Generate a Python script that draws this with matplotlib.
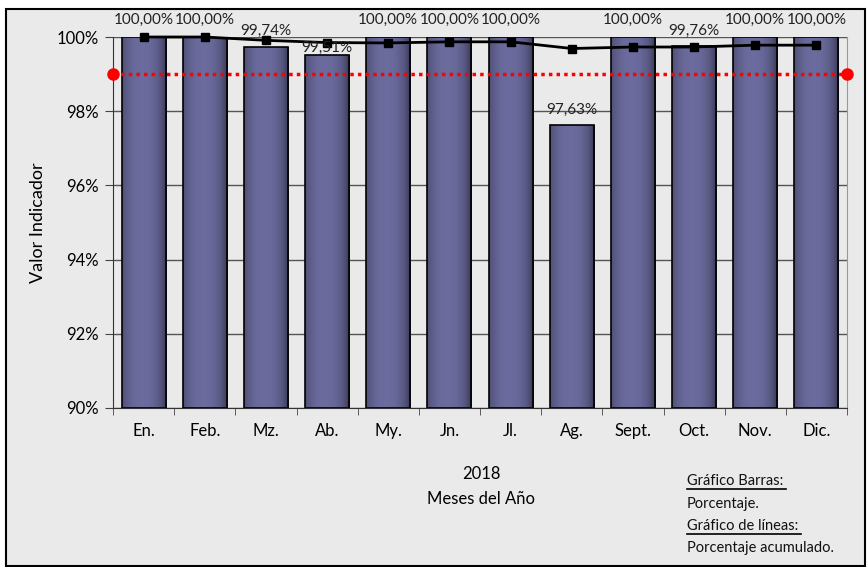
import numpy as np
import matplotlib
matplotlib.use("Agg")
import matplotlib.pyplot as plt
from matplotlib.patches import Rectangle

plt.rcParams['font.family'] = ['Lato', 'DejaVu Sans']

meses = ['En.', 'Feb.', 'Mz.', 'Ab.', 'My.', 'Jn.', 'Jl.', 'Ag.', 'Sept.', 'Oct.', 'Nov.', 'Dic.']
porcentaje = [100.00, 100.00, 99.74, 99.51, 100.00, 100.00, 100.00, 97.63, 100.00, 99.76, 100.00, 100.00]
acumulado = [100.00, 100.00, 99.91, 99.85, 99.84, 99.87, 99.87, 99.69, 99.73, 99.73, 99.78, 99.78]
meta = 99.0

fig = plt.figure(figsize=(8.67, 5.67), dpi=100)
fig.patch.set_facecolor('white')
fig.patches.append(Rectangle((6/867, 0.002), 859/867, 1-9/567-0.002, transform=fig.transFigure,
                             facecolor='#EAEAEA', edgecolor='black', lw=1.5, zorder=-1))

ax = fig.add_axes([113/867, 1-408/567, 734/867, 371/567])
ax.set_facecolor('#EAEAEA')
x = np.arange(len(meses))

# gradiente de las barras
g = np.linspace(0, 1, 200)
shade = np.clip(1 - np.abs((g - 0.45) / 0.55) ** 2.2, 0, 1) ** 0.5
dark = np.array([0.13, 0.13, 0.20])
light = np.array([0.42, 0.42, 0.62])
grad = dark[None, :] + (light - dark)[None, :] * shade[:, None]
grad = grad[None, :, :]

bars = ax.bar(x, [p - 90 for p in porcentaje], width=0.72, bottom=90,
              facecolor='none', edgecolor='black', lw=1.2, zorder=3)
for b in bars:
    im = ax.imshow(grad, extent=[b.get_x(), b.get_x() + b.get_width(), 90, 90 + b.get_height()],
                   aspect='auto', zorder=2, interpolation='bilinear')
    im.set_clip_path(b)

offs = [7, 7, 6, 0, 7, 7, 7, 6, 7, 6, 7, 7]
for i, p in enumerate(porcentaje):
    ax.annotate(('%.2f%%' % p).replace('.', ','), (x[i], p), xytext=(0, offs[i]),
                textcoords='offset points', ha='center', va='bottom', fontsize=11,
                color='#222222', zorder=6, annotation_clip=False)

ax.plot(x, acumulado, color='black', lw=2, marker='s', ms=6, zorder=5, clip_on=False)
ax.plot([-0.5, 11.5], [meta, meta], color='red', lw=2.5, ls=(0, (1, 1.2)), zorder=4, clip_on=False)
ax.plot([-0.5, 11.5], [meta, meta], ls='none', marker='o', color='red', ms=8, zorder=4, clip_on=False)

ax.set_xlim(-0.5, 11.5)
ax.set_ylim(90, 100)
ax.set_yticks(np.arange(90, 101, 2))
ax.set_yticklabels(['%d%%' % v for v in range(90, 101, 2)], fontsize=12)
ax.yaxis.grid(True, color='#555555', lw=1)
ax.set_axisbelow(True)
ax.set_xticks(x)
ax.set_xticklabels(meses, fontsize=12)
ax.set_xticks(np.arange(-0.5, 12, 1), minor=True)
ax.tick_params(axis='x', which='major', length=0, pad=11)
ax.tick_params(axis='x', which='minor', length=5, color='#444444')
ax.tick_params(axis='y', length=6, color='#444444', pad=4)
ax.spines['top'].set_visible(False)
ax.spines['right'].set_color('#999999')
ax.spines['left'].set_color('#333333')
ax.spines['bottom'].set_color('#333333')
ax.set_ylabel('Valor Indicador', fontsize=13, labelpad=8)

fig.text(481/867, 1-474/567, '2018', ha='center', va='center', fontsize=12)
fig.text(481/867, 1-499/567, 'Meses del Año', ha='center', va='center', fontsize=12)

leyenda = ['Gráfico Barras:', 'Porcentaje.', 'Gráfico de líneas:', 'Porcentaje acumulado.']
ys = [481, 504, 526, 548]
for t, yy in zip(leyenda, ys):
    txt = fig.text(687/867, 1-yy/567, t, ha='left', va='center', fontsize=10.5, color='#111111')
    if t.endswith(':'):
        fig.canvas.draw()
        bb = txt.get_window_extent()
        fig.add_artist(plt.Line2D([bb.x0/867, (bb.x1+3)/867], [(bb.y0-1)/567, (bb.y0-1)/567],
                                  color='black', lw=1.2, transform=fig.transFigure))

fig.savefig('out.png', dpi=100)
